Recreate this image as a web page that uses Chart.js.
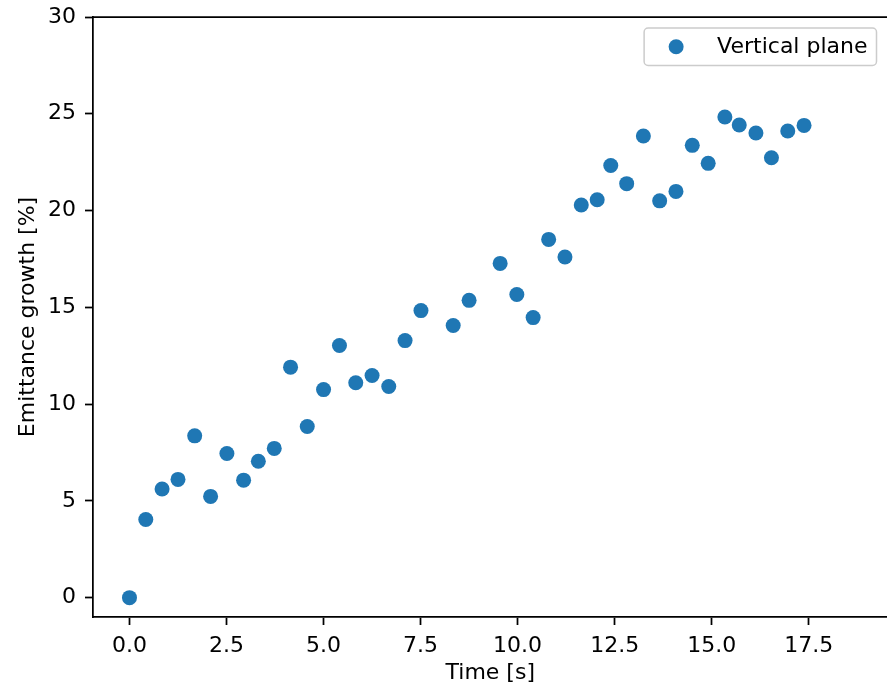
<!DOCTYPE html>
<html>
<head>
<meta charset="utf-8">
<script src="https://cdn.jsdelivr.net/npm/chart.js@4/dist/chart.umd.min.js"></script>
<style>
  html, body { margin: 0; padding: 0; background: #ffffff; overflow: hidden; }
  #c { display: block; }
</style>
</head>
<body>
<canvas id="c" width="887" height="686"></canvas>
<script>
// ---- Data ----
const seriesLabel = "Vertical plane";
const timeValues = [0, 0.42, 0.84, 1.25, 1.68, 2.09, 2.51, 2.94, 3.32, 3.73,
  4.15, 4.58, 5.00, 5.41, 5.83, 6.25, 6.68, 7.10, 7.51, 8.34,
  8.75, 9.55, 9.98, 10.40, 10.80, 11.22, 11.64, 12.05, 12.40, 12.81,
  13.24, 13.66, 14.08, 14.50, 14.91, 15.34, 15.71, 16.14, 16.54, 16.96, 17.38];
const growthValues = [0, 4.04, 5.61, 6.11, 8.36, 5.23, 7.45, 6.07, 7.05, 7.71,
  11.91, 8.84, 10.75, 13.03, 11.10, 11.48, 10.91, 13.28, 14.83, 14.06,
  15.36, 17.27, 15.66, 14.47, 18.51, 17.60, 20.29, 20.56, 22.33, 21.39,
  23.85, 20.50, 20.99, 23.37, 22.44, 24.83, 24.42, 24.01, 22.73, 24.11, 24.40];
const xTicks = [0, 2.5, 5, 7.5, 10, 12.5, 15, 17.5];
const yTicks = [0, 5, 10, 15, 20, 25, 30];
const xTitle = "Time [s]";
const yTitle = "Emittance growth [%]";

// ---- Styling ----
const BLUE = "#1f77b4";
const FONT = "'DejaVu Sans', 'Liberation Sans', sans-serif";
const FS = 22;
const LW = 1.75;
const AXES_OVERHANG = 8; // the original axes box runs a few pixels past the picture's right edge

const points = timeValues.map((t, i) => ({ x: t, y: growthValues[i] }));

const extendRight = {
  id: "extendRight",
  afterLayout(chart) {
    const xs = chart.scales.x;
    xs.right += AXES_OVERHANG;
    xs.width += AXES_OVERHANG;
    xs.configure();
    chart.chartArea.right += AXES_OVERHANG;
    chart.chartArea.width += AXES_OVERHANG;
  }
};

const topSpine = {
  id: "topSpine",
  afterDraw(chart) {
    const { ctx, chartArea } = chart;
    ctx.save();
    ctx.strokeStyle = "#000";
    ctx.lineWidth = LW;
    ctx.beginPath();
    ctx.moveTo(chartArea.left - LW / 2, chartArea.top);
    ctx.lineTo(chartArea.right, chartArea.top);
    ctx.stroke();
    ctx.restore();
  }
};

const mplLegend = {
  id: "mplLegend",
  afterDraw(chart) {
    const { ctx, chartArea } = chart;
    const ds = chart.data.datasets[0];
    ctx.save();
    ctx.font = FS + "px " + FONT;
    const tw = ctx.measureText(ds.label).width;
    const right = chartArea.right - 11;
    const top = chartArea.top + 11;
    const h = 37.5;
    const left = right - (tw + 82);
    const r = 4;
    ctx.beginPath();
    ctx.moveTo(left + r, top);
    ctx.lineTo(right - r, top);
    ctx.arcTo(right, top, right, top + r, r);
    ctx.lineTo(right, top + h - r);
    ctx.arcTo(right, top + h, right - r, top + h, r);
    ctx.lineTo(left + r, top + h);
    ctx.arcTo(left, top + h, left, top + h - r, r);
    ctx.lineTo(left, top + r);
    ctx.arcTo(left, top, left + r, top, r);
    ctx.closePath();
    ctx.fillStyle = "rgba(255,255,255,0.8)";
    ctx.fill();
    ctx.strokeStyle = "#cccccc";
    ctx.lineWidth = 1.5;
    ctx.stroke();
    ctx.beginPath();
    ctx.arc(left + 32, top + h / 2, ds.pointRadius, 0, Math.PI * 2);
    ctx.fillStyle = ds.backgroundColor;
    ctx.fill();
    ctx.fillStyle = "#000";
    ctx.textBaseline = "middle";
    ctx.textAlign = "left";
    ctx.fillText(ds.label, left + 73, top + h / 2 + 1);
    ctx.restore();
  }
};

new Chart(document.getElementById("c"), {
  type: "scatter",
  data: {
    datasets: [{
      label: seriesLabel,
      data: points,
      backgroundColor: BLUE,
      borderColor: BLUE,
      borderWidth: 0,
      pointRadius: 7.5,
      pointHoverRadius: 7.5
    }]
  },
  options: {
    responsive: false,
    maintainAspectRatio: false,
    animation: false,
    devicePixelRatio: 1,
    layout: { padding: { top: 17, right: 0, bottom: 0, left: 0 } },
    plugins: { legend: { display: false }, tooltip: { enabled: false } },
    scales: {
      x: {
        type: "linear",
        min: -0.94,
        max: 19.53,
        afterBuildTicks: (s) => { s.ticks = xTicks.map(v => ({ value: v })); },
        afterFit: (s) => { s.height = 69; s.paddingLeft = 0; s.paddingRight = 0; },
        ticks: {
          color: "#000",
          font: { family: FONT, size: FS },
          padding: 8,
          maxRotation: 0,
          autoSkip: false,
          callback: (v) => Number(v).toFixed(1)
        },
        grid: { display: true, drawOnChartArea: false, drawTicks: true, tickLength: 8, tickColor: "#000", tickWidth: LW },
        border: { display: true, color: "#000", width: LW },
        title: { display: true, text: xTitle, color: "#000", font: { family: FONT, size: FS }, padding: { top: 0, bottom: 0 } }
      },
      y: {
        type: "linear",
        min: -1,
        max: 30,
        afterBuildTicks: (s) => { s.ticks = yTicks.map(v => ({ value: v })); },
        afterFit: (s) => { s.width = 93; s.paddingTop = 0; s.paddingBottom = 0; },
        ticks: {
          color: "#000",
          font: { family: FONT, size: FS },
          padding: 9,
          autoSkip: false,
          callback: (v) => String(v)
        },
        grid: { display: true, drawOnChartArea: false, drawTicks: true, tickLength: 8, tickColor: "#000", tickWidth: LW },
        border: { display: true, color: "#000", width: LW },
        title: { display: true, text: yTitle, color: "#000", font: { family: FONT, size: FS }, padding: { top: 15, bottom: 0 } }
      }
    }
  },
  plugins: [extendRight, topSpine, mplLegend]
});
</script>
</body>
</html>
